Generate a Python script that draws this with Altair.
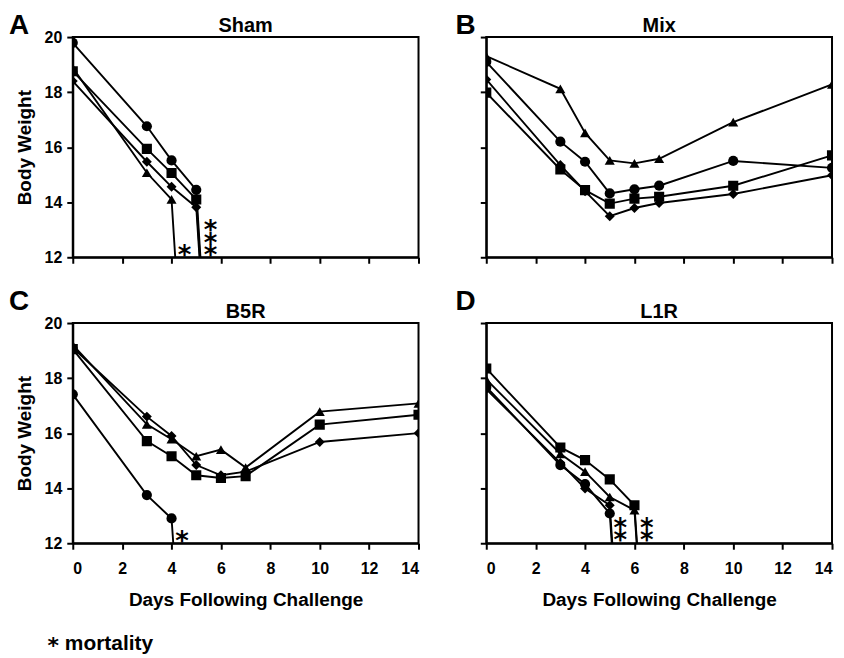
import altair as alt
import pandas as pd

# ---------------- data ----------------
X_TICKS = [0, 2, 4, 6, 8, 10, 12, 14]
Y_TICKS = [12, 14, 16, 18, 20]
SERIES = ["circle", "square", "triangle", "diamond"]

# Panel A - Sham (0 = animal died, drawn as a drop clipped at 12)
SHAM_DAYS = [0, 3, 4, 5, 6]
SHAM_CIRCLE = [19.79, 16.76, 15.52, 14.45, 0]
SHAM_SQUARE = [18.76, 15.94, 15.06, 14.10, 0]
SHAM_TRIANGLE = [18.88, 15.07, 14.10, 0, None]
SHAM_DIAMOND = [18.40, 15.47, 14.56, 13.82, 0]
# mortality asterisks: position (day, value of the top one) and how many stacked
SHAM_AST_DAY = [4.52, 5.58]
SHAM_AST_VAL = [12.29, 13.19]
SHAM_AST_N = [1, 3]

# Panel B - Mix
MIX_DAYS = [0, 3, 4, 5, 6, 7, 10, 14]
MIX_CIRCLE = [19.10, 16.20, 15.47, 14.32, 14.47, 14.60, 15.50, 15.25]
MIX_SQUARE = [17.98, 15.19, 14.44, 13.95, 14.13, 14.20, 14.60, 15.70]
MIX_TRIANGLE = [19.31, 18.12, 16.52, 15.52, 15.41, 15.58, 16.91, 18.28]
MIX_DIAMOND = [18.46, 15.35, 14.40, 13.49, 13.79, 13.97, 14.30, 14.98]

# Panel C - B5R
B5R_DAYS = [0, 3, 4, 5, 6, 7, 10, 14]
B5R_CIRCLE = [17.41, 13.75, 12.90, 0, None, None, None, None]
B5R_SQUARE = [19.05, 15.71, 15.16, 14.47, 14.37, 14.44, 16.31, 16.67]
B5R_TRIANGLE = [19.21, 16.32, 15.78, 15.16, 15.40, 14.75, 16.78, 17.08]
B5R_DIAMOND = [19.10, 16.60, 15.90, 14.84, 14.47, 14.60, 15.68, 16.00]
B5R_AST_DAY = [4.42]
B5R_AST_VAL = [12.29]
B5R_AST_N = [1]

# Panel D - L1R
L1R_DAYS = [0, 3, 4, 5, 6, 7]
L1R_CIRCLE = [17.68, 14.84, 14.15, 13.08, 0, None]
L1R_SQUARE = [18.35, 15.48, 15.02, 14.32, 13.38, 0]
L1R_TRIANGLE = [17.95, 15.25, 14.60, 13.68, 13.20, 0]
L1R_DIAMOND = [17.60, 14.92, 13.99, 13.38, 0, None]
L1R_AST_DAY = [5.43, 6.50]
L1R_AST_VAL = [12.77, 12.77]
L1R_AST_N = [2, 2]

PANEL_TITLES = ["Sham", "Mix", "B5R", "L1R"]
PANEL_LETTERS = ["A", "B", "C", "D"]
X_TITLE = "Days Following Challenge"
Y_TITLE = "Body Weight"
LEGEND_TEXT = "mortality"

W, H = 347, 221
FONT = "Liberation Sans"
STAR_FONT = "DejaVu Sans"


def long_df(days, circle, square, triangle, diamond):
    rows = []
    for name, vals in zip(SERIES, [circle, square, triangle, diamond]):
        for d, v in zip(days, vals):
            if v is not None:
                rows.append({"day": d, "weight": v, "series": name})
    return pd.DataFrame(rows)


def panel(df, ast_days, ast_vals, ast_n, title, letter, show_x, show_y, legend=False):
    x = alt.X(
        "day:Q",
        scale=alt.Scale(domain=[0, 14], nice=False, zero=False),
        axis=alt.Axis(
            values=X_TICKS,
            labels=show_x,
            title=X_TITLE if show_x else None,
            labelPadding=11,
            titlePadding=14,
            format="d",
        ),
    )
    y = alt.Y(
        "weight:Q",
        scale=alt.Scale(domain=[12, 20], nice=False, zero=False),
        axis=alt.Axis(
            values=Y_TICKS,
            labels=show_y,
            title=Y_TITLE if show_y else None,
            labelPadding=5,
            titlePadding=10,
            format="d",
        ),
    )
    lines = alt.Chart(df).mark_line(color="black", strokeWidth=1.9, clip=True).encode(
        x=x, y=y, detail="series:N"
    )
    pts = alt.Chart(df).mark_point(filled=True, color="black", opacity=1, clip=True).encode(
        x=x,
        y=y,
        shape=alt.Shape(
            "series:N",
            scale=alt.Scale(domain=SERIES, range=["circle", "square", "triangle-up", "diamond"]),
            legend=None,
        ),
        size=alt.Size(
            "series:N",
            scale=alt.Scale(domain=SERIES, range=[105, 100, 95, 85]),
            legend=None,
        ),
    )
    layers = [lines, pts]
    if ast_days:
        ast_df = pd.DataFrame({
            "day": ast_days,
            "weight": ast_vals,
            "t": [["*"] * n for n in ast_n],
        })
        ast = alt.Chart(ast_df).mark_text(
            fontSize=26, fontWeight="bold", font=STAR_FONT, baseline="middle", align="center",
            dy=7, lineHeight=12.5, color="black"
        ).encode(x=x, y=y, text="t")
        layers.append(ast)

    ttl = alt.Chart(pd.DataFrame({"t": [title]})).mark_text(
        fontSize=20, fontWeight="bold", font=FONT, align="center", baseline="alphabetic", color="black"
    ).encode(x=alt.value(W / 2), y=alt.value(-5), text="t:N")
    let_y = -3 if letter in ("A", "B") else -13
    let_x = -64 if show_y else -31
    lt = alt.Chart(pd.DataFrame({"t": [letter]})).mark_text(
        fontSize=28, fontWeight="bold", font=FONT, align="left", baseline="alphabetic", color="black"
    ).encode(x=alt.value(let_x), y=alt.value(let_y), text="t:N")
    layers += [ttl, lt]

    if legend:
        star = alt.Chart(pd.DataFrame({"t": ["*"]})).mark_text(
            fontSize=22, fontWeight="bold", font=STAR_FONT, align="center", baseline="middle", dy=6, color="black"
        ).encode(x=alt.value(-19.7), y=alt.value(318), text="t:N")
        word = alt.Chart(pd.DataFrame({"t": [LEGEND_TEXT]})).mark_text(
            fontSize=21, fontWeight="bold", font=FONT, align="left", baseline="alphabetic", color="black"
        ).encode(x=alt.value(-8), y=alt.value(328), text="t:N")
        layers += [star, word]
    return alt.layer(*layers).properties(width=W, height=H)


pa = panel(long_df(SHAM_DAYS, SHAM_CIRCLE, SHAM_SQUARE, SHAM_TRIANGLE, SHAM_DIAMOND),
           SHAM_AST_DAY, SHAM_AST_VAL, SHAM_AST_N, PANEL_TITLES[0], PANEL_LETTERS[0], False, True)
pb = panel(long_df(MIX_DAYS, MIX_CIRCLE, MIX_SQUARE, MIX_TRIANGLE, MIX_DIAMOND),
           [], [], [], PANEL_TITLES[1], PANEL_LETTERS[1], False, False)
pc = panel(long_df(B5R_DAYS, B5R_CIRCLE, B5R_SQUARE, B5R_TRIANGLE, B5R_DIAMOND),
           B5R_AST_DAY, B5R_AST_VAL, B5R_AST_N, PANEL_TITLES[2], PANEL_LETTERS[2], True, True, legend=True)
pd_ = panel(long_df(L1R_DAYS, L1R_CIRCLE, L1R_SQUARE, L1R_TRIANGLE, L1R_DIAMOND),
            L1R_AST_DAY, L1R_AST_VAL, L1R_AST_N, PANEL_TITLES[3], PANEL_LETTERS[3], True, False)

chart = alt.concat(
    pa, pb, pc, pd_, columns=2, bounds="flush", spacing={"row": 66, "column": 68}
).properties(
    padding={"left": 0, "top": 2, "right": 2, "bottom": 0}
).configure(font=FONT).configure_axis(
    grid=False,
    domainColor="black",
    domainWidth=2,
    tickColor="black",
    tickWidth=2,
    tickSize=6,
    labelFont=FONT,
    labelFontSize=16,
    labelFontWeight="bold",
    labelColor="black",
    titleFont=FONT,
    titleFontSize=19,
    titleFontWeight="bold",
    titleColor="black",
).configure_view(stroke="black", strokeWidth=2)

chart.save("out.html", embed_options={"renderer": "svg", "actions": False})
